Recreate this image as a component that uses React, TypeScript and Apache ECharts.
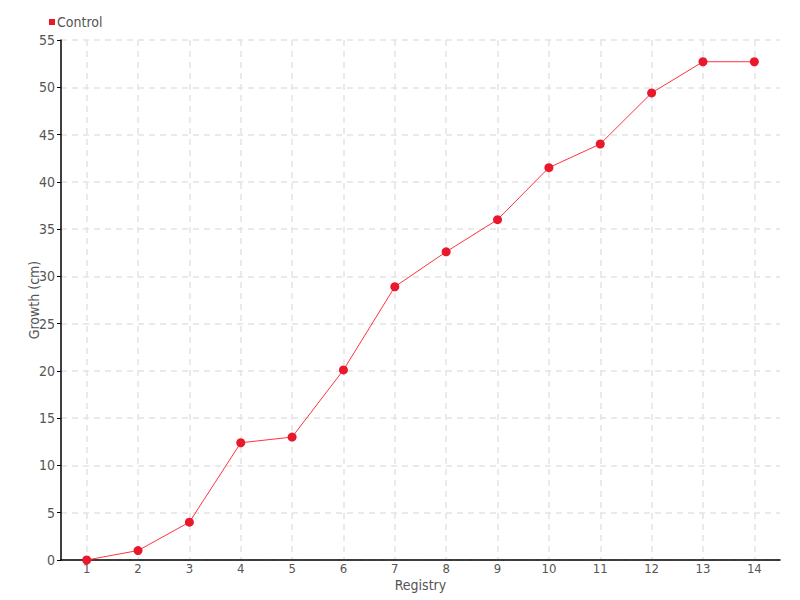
import React, { useEffect, useRef } from "react";
import * as echarts from "echarts";

const categories = ["1", "2", "3", "4", "5", "6", "7", "8", "9", "10", "11", "12", "13", "14"];
const controlValues = [0, 1.0, 4.0, 12.4, 13.0, 20.1, 28.9, 32.6, 36.0, 41.5, 44.0, 49.4, 52.7, 52.7];

const FONT = "'DejaVu Sans Condensed', 'Liberation Sans Narrow', 'Roboto', sans-serif";

export default function App() {
  const ref = useRef<HTMLDivElement>(null);
  useEffect(() => {
    if (!ref.current) return;
    const chart = echarts.init(ref.current, null, { renderer: "svg" });
    chart.setOption({
      animation: false,
      backgroundColor: "#ffffff",
      textStyle: { fontFamily: FONT },
      legend: {
        left: 44,
        top: 10,
        itemWidth: 6,
        itemHeight: 6,
        itemGap: 10,
        icon: "rect",
        textStyle: { color: "#555", fontSize: 14, fontFamily: FONT, padding: [0, 0, 0, -3] },
        data: ["Control"],
      },
      grid: { left: 61, right: 20, top: 40, bottom: 40, containLabel: false },
      xAxis: {
        type: "category",
        data: categories,
        boundaryGap: true,
        name: "Registry",
        nameLocation: "middle",
        nameGap: 18,
        nameMoveOverlap: false,
        nameTextStyle: { color: "#555", fontSize: 14, fontFamily: FONT },
        axisLine: { lineStyle: { color: "#000", width: 1.5 } },
        axisTick: { show: false, alignWithLabel: true },
        axisLabel: { color: "#555", fontSize: 13, fontFamily: FONT, margin: 2 },
        splitLine: { show: true, alignWithLabel: true, lineStyle: { color: "#e3e3e3", type: [6, 5], width: 1.5 } },
      },
      yAxis: {
        type: "value",
        min: 0,
        max: 55,
        interval: 5,
        name: "Growth (cm)",
        nameLocation: "middle",
        nameGap: 20,
        nameMoveOverlap: false,
        nameTextStyle: { color: "#555", fontSize: 14, fontFamily: FONT },
        axisLine: { show: true, lineStyle: { color: "#000", width: 1.5 } },
        axisTick: { show: true, length: 4, lineStyle: { color: "#000" } },
        axisLabel: { color: "#555", fontSize: 14, fontFamily: FONT, margin: 6 },
        splitLine: { show: true, lineStyle: { color: "#e3e3e3", type: [6, 5], width: 1.5 } },
      },
      series: [
        {
          name: "Control",
          type: "line",
          data: controlValues,
          symbol: "circle",
          symbolSize: 9,
          itemStyle: { color: "#e8192c" },
          lineStyle: { color: "#ff3344", width: 1 },
        },
      ],
    });
    return () => chart.dispose();
  }, []);
  return <div ref={ref} style={{ width: 800, height: 600, position: "absolute", left: 0, top: 0 }} />;
}
